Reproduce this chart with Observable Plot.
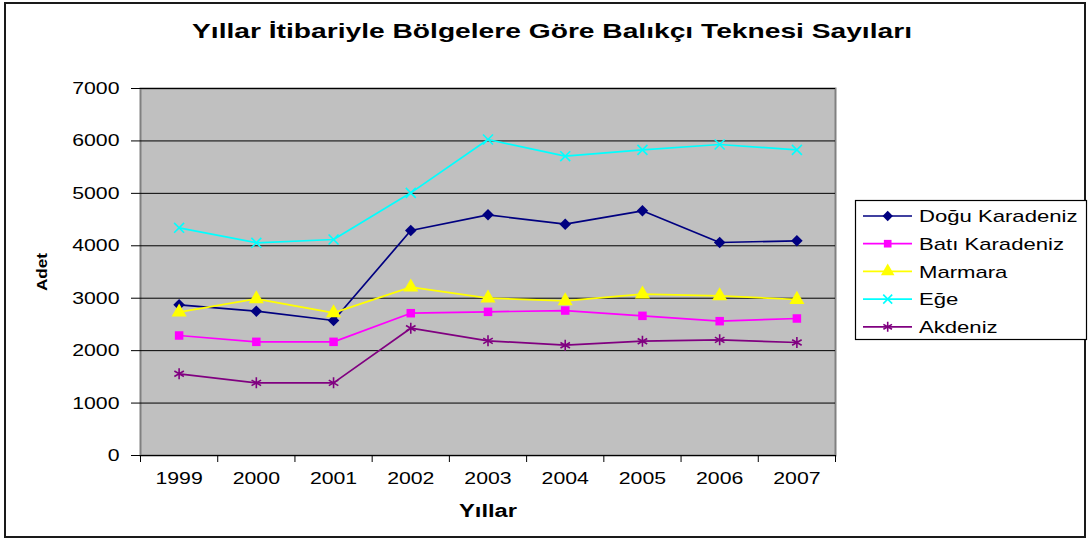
<!DOCTYPE html>
<html><head><meta charset="utf-8">
<script src="https://cdn.jsdelivr.net/npm/d3@7"></script>
<script src="https://cdn.jsdelivr.net/npm/@observablehq/plot@0.6"></script>
<style>
body{margin:0;background:#fff;font-family:"Liberation Sans",Arial,sans-serif;}
#wrap{position:relative;width:1089px;height:542px;overflow:hidden;background:#fff;}
#border{position:absolute;left:4px;top:2px;width:1078px;height:532px;border:2px solid #1a1a1a;}
#chart{position:absolute;left:0;top:0;}
#legend{position:absolute;left:0;top:0;}
#title{position:absolute;top:20px;left:552px;white-space:nowrap;font-weight:bold;font-size:21px;line-height:21px;color:#000;transform-origin:0 0;}
</style></head><body>
<div id="wrap">
  <div id="border"></div>
  <div id="chart"></div>
  <svg id="legend" width="1089" height="542"></svg>
  <div id="title">Yıllar İtibariyle Bölgelere Göre Balıkçı Teknesi Sayıları</div>
</div>
<script>
// ---- data ----
const years = [1999, 2000, 2001, 2002, 2003, 2004, 2005, 2006, 2007];
const seriesNames = ["Doğu Karadeniz", "Batı Karadeniz", "Marmara", "Eğe", "Akdeniz"];
const doguKaradeniz = [2874, 2753, 2575, 4291, 4590, 4412, 4667, 4063, 4095];
const batiKaradeniz = [2289, 2168, 2168, 2714, 2740, 2765, 2664, 2562, 2613];
const marmara       = [2734, 2988, 2720, 3211, 3000, 2950, 3077, 3045, 2975];
const ege           = [4343, 4057, 4120, 5010, 6027, 5709, 5830, 5932, 5830];
const akdeniz       = [1558, 1386, 1386, 2428, 2187, 2104, 2180, 2206, 2155];
const yTicks = [0, 1000, 2000, 3000, 4000, 5000, 6000, 7000];
const xTitle = "Yıllar";
const yTitle = "Adet";

// ---- styles ----
const seriesColors = ["#000080", "#FF00FF", "#FFFF00", "#00FFFF", "#800080"];
const seriesSymbols = ["diamond2", "square", "triangle", "times", "asterisk"];
const filledSymbols = new Set(["diamond2", "square", "triangle"]);
const symbolRadius = {diamond2: 5.2, square: 4.8, triangle: 5.6, times: 4.6, asterisk: 5.2};

const allValues = [doguKaradeniz, batiKaradeniz, marmara, ege, akdeniz];
const rows = seriesNames.flatMap((s, i) =>
  allValues[i].map((v, j) => ({series: s, symbol: seriesSymbols[i], year: years[j], value: v})));
const boundaries = years.map(y => y - 0.5).concat([years[years.length - 1] + 0.5]);

const marks = [
  Plot.frame({fill: "#C0C0C0", stroke: "#808080", strokeWidth: 2}),
  Plot.gridY(yTicks.slice(1), {stroke: "#000", strokeOpacity: 1, strokeWidth: 1}),
  Plot.ruleY([0], {stroke: "#000", strokeWidth: 1}),
  Plot.axisY(yTicks, {tickSize: 9, tickPadding: 12, tickFormat: d => String(d), label: null, fontSize: 17}),
  Plot.axisX(boundaries, {tickSize: 7, tickFormat: () => "", label: null}),
  Plot.axisX(years, {tickSize: 0, tickPadding: 16, tickFormat: d => String(d), label: null, fontSize: 17}),
  Plot.line(rows, {x: "year", y: "value", z: "series", stroke: "series", strokeWidth: 1.7})
];
for (const sym of seriesSymbols) {
  const sub = rows.filter(d => d.symbol === sym);
  if (filledSymbols.has(sym)) {
    marks.push(Plot.dot(sub, {x: "year", y: "value", symbol: "series", fill: "series", r: symbolRadius[sym]}));
  } else {
    marks.push(Plot.dot(sub, {x: "year", y: "value", symbol: "series", stroke: "series", fill: "none", strokeWidth: 1.6, r: symbolRadius[sym]}));
  }
}
marks.push(Plot.text([xTitle], {text: d => d, frameAnchor: "bottom", lineAnchor: "middle", dy: 56, fontWeight: "bold", fontSize: 18}));
marks.push(Plot.text([yTitle], {text: d => d, frameAnchor: "left", textAnchor: "middle", lineAnchor: "middle", dx: -98, rotate: -90, fontWeight: "bold", fontSize: 14}));

const chart = Plot.plot({
  width: 1089, height: 542,
  marginLeft: 140, marginRight: 254, marginTop: 88, marginBottom: 87,
  style: {fontFamily: "'Liberation Sans', Arial, sans-serif", fontSize: "17px", color: "#000", background: "transparent"},
  x: {type: "linear", domain: [years[0] - 0.5, years[years.length - 1] + 0.5]},
  y: {domain: [0, 7000]},
  color: {domain: seriesNames, range: seriesColors},
  symbol: {domain: seriesNames, range: seriesSymbols},
  marks
});
document.getElementById("chart").appendChild(chart);

// widen text to match the reference's stretched lettering
const STRETCH = 1.25;
d3.select(chart).selectAll("text").each(function() {
  const t = this.textContent;
  if (!t) return;
  const w = this.getComputedTextLength();
  let target = w * STRETCH;
  if (t === xTitle) target = 58;
  if (t === yTitle) target = 38;
  this.setAttribute("textLength", target);
  this.setAttribute("lengthAdjust", "spacingAndGlyphs");
});

// ---- legend ----
const symbolTypes = {diamond2: d3.symbolDiamond2, square: d3.symbolSquare, triangle: d3.symbolTriangle, times: d3.symbolTimes, asterisk: d3.symbolAsterisk};
const lg = d3.select("#legend");
lg.append("rect").attr("x", 855.5).attr("y", 200.5).attr("width", 231).attr("height", 139)
  .attr("fill", "#fff").attr("stroke", "#000").attr("stroke-width", 1.2);
seriesNames.forEach((name, i) => {
  const cy = 216 + 27.7 * i;
  const col = seriesColors[i];
  const sym = seriesSymbols[i];
  lg.append("line").attr("x1", 863).attr("x2", 912).attr("y1", cy).attr("y2", cy)
    .attr("stroke", col).attr("stroke-width", 1.7);
  const r = symbolRadius[sym] * 0.9;
  const p = lg.append("path").attr("transform", `translate(887.7,${cy})`)
    .attr("d", d3.symbol(symbolTypes[sym], r * r * Math.PI)());
  if (filledSymbols.has(sym)) p.attr("fill", col);
  else p.attr("fill", "none").attr("stroke", col).attr("stroke-width", 1.6);
  const tx = lg.append("text").attr("x", 919).attr("y", cy + 6.1)
    .attr("font-family", "'Liberation Sans', Arial, sans-serif").attr("font-size", 17).attr("fill", "#000")
    .text(name);
  const w = tx.node().getComputedTextLength();
  tx.attr("textLength", w * 1.3).attr("lengthAdjust", "spacingAndGlyphs");
});

// ---- title ----
const title = document.getElementById("title");
const tw = title.getBoundingClientRect().width;
title.style.transform = `translateX(-360px) scaleX(${720 / tw})`;
</script>
</body></html>
